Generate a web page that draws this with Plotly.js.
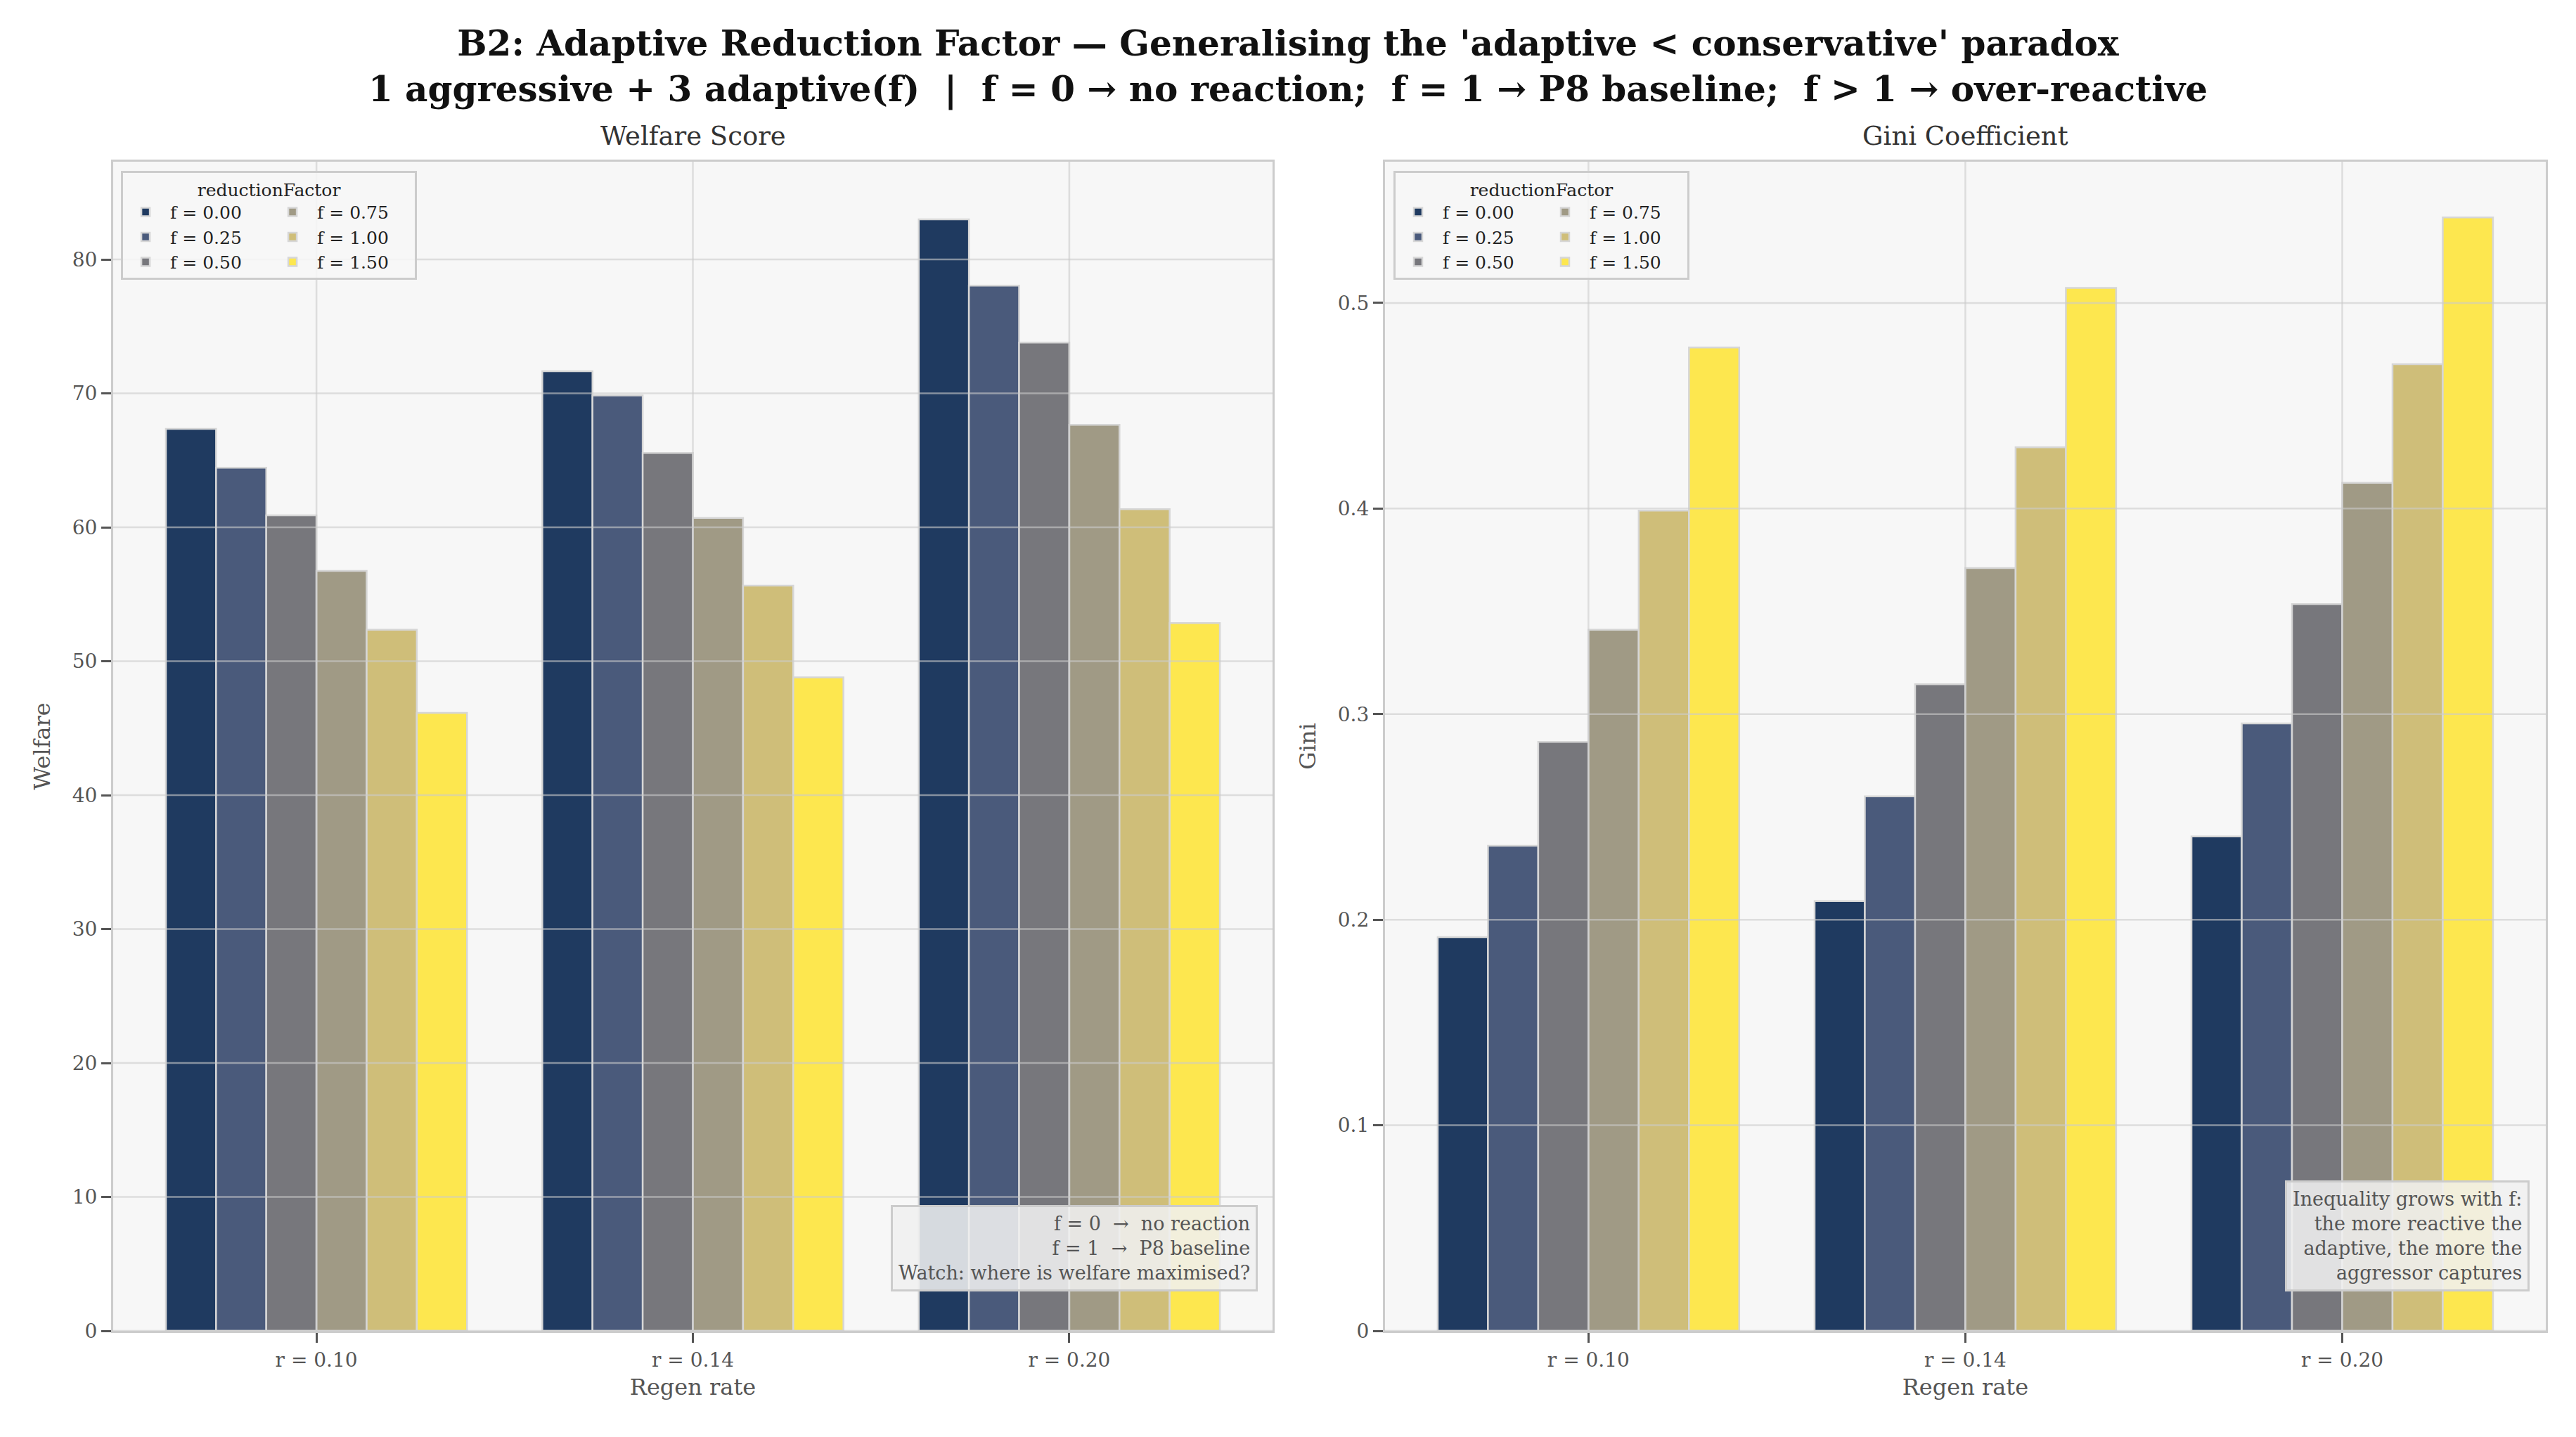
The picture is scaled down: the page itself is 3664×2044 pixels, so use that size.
<!DOCTYPE html>
<html>
<head>
<meta charset="utf-8">
<script src="https://cdn.plot.ly/plotly-3.0.1.min.js"></script>
<style>
  html, body { margin: 0; padding: 0; background: #ffffff; }
  #chart { width: 3664px; height: 2044px; }
</style>
</head>
<body>
<div id="chart"></div>
<script>
// regen rates on the x axis, one bar per reduction factor
const regenLabels = ['r = 0.10', 'r = 0.14', 'r = 0.20'];
const factorLabels = ['f = 0.00', 'f = 0.25', 'f = 0.50', 'f = 0.75', 'f = 1.00', 'f = 1.50'];

// welfare score per factor (values for r = 0.10, 0.14, 0.20)
const welfareF000 = [67.35, 71.65, 83.0];
const welfareF025 = [64.45, 69.85, 78.05];
const welfareF050 = [60.9, 65.55, 73.8];
const welfareF075 = [56.75, 60.7, 67.65];
const welfareF100 = [52.35, 55.65, 61.35];
const welfareF150 = [46.15, 48.8, 52.85];

// gini coefficient per factor
const giniF000 = [0.1915, 0.209, 0.2405];
const giniF025 = [0.236, 0.26, 0.2955];
const giniF050 = [0.2865, 0.3145, 0.3535];
const giniF075 = [0.341, 0.371, 0.4125];
const giniF100 = [0.399, 0.4298, 0.4702];
const giniF150 = [0.4783, 0.5073, 0.5416];

const welfareTicks = [0, 10, 20, 30, 40, 50, 60, 70, 80];
const giniTicks = [0, 0.1, 0.2, 0.3, 0.4, 0.5];

const barColors = ['#1f3a60', '#4a5a7b', '#77777c', '#a09a85', '#cfbe79', '#fde74f'];
const FONT = 'DejaVu Serif';

document.addEventListener("DOMContentLoaded", function () {
    drawChart();
});

function makeBars(seriesList, xa, ya, legendName, groupPrefix) {
    return seriesList.map((vals, i) => ({
        type: 'bar',
        name: factorLabels[i],
        x: regenLabels,
        y: vals,
        xaxis: xa,
        yaxis: ya,
        legend: legendName,
        // two legend columns: first three factors, then the rest
        legendgroup: groupPrefix + (i < 3 ? '1' : '2'),
        marker: {
            color: barColors[i],
            line: { color: '#d6d6d6', width: 2.5 }
        },
        hoverinfo: 'skip'
    }));
}

function gridShapes(ticks, xa, ya) {
    const shapes = [];
    // grid sits over the bars, like the original
    ticks.forEach(t => {
        shapes.push({
            type: 'line', layer: 'above',
            xref: xa + ' domain', yref: ya,
            x0: 0, x1: 1, y0: t, y1: t,
            line: { color: 'rgba(204,204,204,0.6)', width: 2.5 }
        });
    });
    regenLabels.forEach(c => {
        shapes.push({
            type: 'line', layer: 'above',
            xref: xa, yref: ya + ' domain',
            x0: c, x1: c, y0: 0, y1: 1,
            line: { color: 'rgba(204,204,204,0.6)', width: 2.5 }
        });
    });
    return shapes;
}

function legendStyle(x) {
    return {
        x: x, xanchor: 'left',
        y: 0.992, yanchor: 'top',
        orientation: 'h',
        traceorder: 'grouped',
        tracegroupgap: 0,
        itemwidth: 60,
        entrywidth: 134,
        bgcolor: 'rgba(247,247,247,0.85)',
        bordercolor: '#cccccc',
        borderwidth: 3,
        font: { family: FONT, size: 25, color: '#222222' },
        title: { text: 'reductionFactor', side: 'top center', font: { family: FONT, size: 25, color: '#222222' } }
    };
}

function axisX(domain, anchor) {
    return {
        domain: domain,
        anchor: anchor,
        type: 'category',
        range: [-0.54, 2.54],
        showgrid: false,
        showline: true, mirror: true,
        linecolor: '#cccccc', linewidth: 3,
        ticks: 'outside', ticklen: 14, tickwidth: 3, tickcolor: '#555555',
        tickfont: { family: FONT, size: 28, color: '#555555' },
        title: { text: 'Regen rate', font: { family: FONT, size: 32, color: '#555555' }, standoff: 12 },
        zeroline: false
    };
}

function axisY(anchor, range, ticks, label) {
    return {
        anchor: anchor,
        range: range,
        tickvals: ticks,
        showgrid: false,
        showline: true, mirror: true,
        linecolor: '#cccccc', linewidth: 3,
        ticks: 'outside', ticklen: 14, tickwidth: 3, tickcolor: '#555555',
        tickfont: { family: FONT, size: 28, color: '#555555' },
        title: { text: label, font: { family: FONT, size: 32, color: '#555555' }, standoff: 22 },
        zeroline: false
    };
}

function drawChart() {
    const welfareSeries = [welfareF000, welfareF025, welfareF050, welfareF075, welfareF100, welfareF150];
    const giniSeries = [giniF000, giniF025, giniF050, giniF075, giniF100, giniF150];

    const data = []
        .concat(makeBars(welfareSeries, 'x', 'y', 'legend', 'W'))
        .concat(makeBars(giniSeries, 'x2', 'y2', 'legend2', 'G'));

    const noteBox = {
        showarrow: false,
        align: 'right',
        xanchor: 'right', yanchor: 'bottom',
        bgcolor: 'rgba(240,240,240,0.88)',
        bordercolor: '#cccccc', borderwidth: 3, borderpad: 8,
        font: { family: FONT, size: 27, color: '#555555' }
    };

    const layout = {
        width: 3664,
        height: 2044,
        paper_bgcolor: '#ffffff',
        plot_bgcolor: '#f7f7f7',
        margin: { l: 161, r: 43, t: 230, b: 151 },
        barmode: 'group',
        bargap: 0.2,
        bargroupgap: 0,
        font: { family: FONT, color: '#333333' },
        title: {
            text: "<b>B2: Adaptive Reduction Factor — Generalising the 'adaptive < conservative' paradox</b><br>" +
                  "<b>1 aggressive + 3 adaptive(f)  |  f = 0 → no reaction;  f = 1 → P8 baseline;  f > 1 → over-reactive</b>",
            font: { family: FONT, size: 50, color: '#111111' },
            x: 0.5, xanchor: 'center',
            yref: 'container', y: 1 - 79 / 2044, yanchor: 'middle'
        },
        xaxis: axisX([0, 0.4766], 'y'),
        yaxis: axisY('x', [0, 87.3], welfareTicks, 'Welfare'),
        xaxis2: axisX([0.5228, 1], 'y2'),
        yaxis2: axisY('x2', [0, 0.5687], giniTicks, 'Gini'),
        legend: legendStyle(0.0032),
        legend2: legendStyle(0.5263),
        shapes: gridShapes(welfareTicks, 'x', 'y').concat(gridShapes(giniTicks, 'x2', 'y2')),
        annotations: [
            {
                text: 'Welfare Score', showarrow: false,
                xref: 'x domain', yref: 'y domain', x: 0.5, y: 1.0222,
                xanchor: 'center', yanchor: 'middle',
                font: { family: FONT, size: 37, color: '#333333' }
            },
            {
                text: 'Gini Coefficient', showarrow: false,
                xref: 'x2 domain', yref: 'y2 domain', x: 0.5, y: 1.0222,
                xanchor: 'center', yanchor: 'middle',
                font: { family: FONT, size: 37, color: '#333333' }
            },
            Object.assign({}, noteBox, {
                xref: 'x domain', yref: 'y domain', x: 0.9873, y: 0.0337,
                text: 'f = 0\u00a0\u00a0→\u00a0\u00a0no reaction<br>f = 1\u00a0\u00a0→\u00a0\u00a0P8 baseline<br>Watch: where is welfare maximised?'
            }),
            Object.assign({}, noteBox, {
                xref: 'x2 domain', yref: 'y2 domain', x: 0.986, y: 0.0337,
                text: 'Inequality grows with f:<br>the more reactive the<br>adaptive, the more the<br>aggressor captures'
            })
        ]
    };

    Plotly.newPlot('chart', data, layout, { staticPlot: true, displayModeBar: false });
}
</script>
</body>
</html>
